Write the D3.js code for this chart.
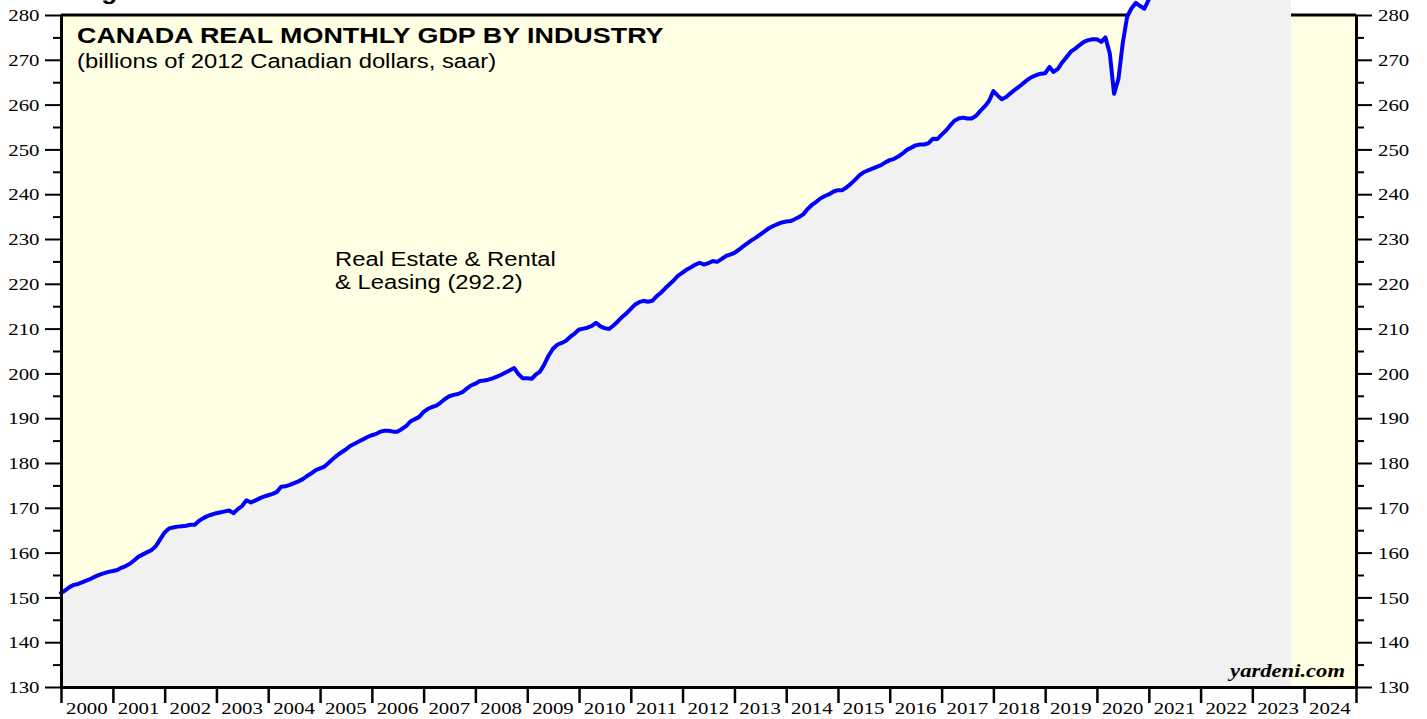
<!DOCTYPE html>
<meta charset="utf-8">
<style>
body { margin: 0; background: #fff; }
svg { display: block; }
.axis text { font-family: 'Liberation Serif', 'Times New Roman', serif; font-size: 17.5px; fill: #000; }
.axis path, .axis line { stroke: #000; }
</style>
<body>
<svg width="1427" height="719"></svg>
<script src="https://cdn.jsdelivr.net/npm/d3@7/dist/d3.min.js"></script>
<script>

// monthly values, first one is January 2000 (billions of 2012 C$, saar)
var firstMonth = "2000-01";
var gdp2000s = [
  151.0, 151.6, 152.3, 152.8, 153.0, 153.4, 153.8, 154.2, 154.7, 155.1, 155.4, 155.7,
  155.9, 156.1, 156.6, 157.0, 157.5, 158.3, 159.1, 159.6, 160.1, 160.6, 161.5, 163.0,
  164.5, 165.4, 165.6, 165.8, 165.9, 166.0, 166.2, 166.2, 167.1, 167.7, 168.2, 168.5,
  168.8, 169.0, 169.2, 169.4, 168.8, 169.7, 170.4, 171.7, 171.2, 171.6, 172.1, 172.5,
  172.8, 173.1, 173.5, 174.7, 174.8, 175.1, 175.5, 175.9, 176.4, 177.1, 177.7, 178.4,
  178.8, 179.2, 180.0, 180.9, 181.7, 182.4, 183.0, 183.8, 184.3, 184.8, 185.3, 185.8,
  186.2, 186.5, 187.0, 187.2, 187.2, 187.0, 187.0, 187.6, 188.3, 189.3, 189.8, 190.3,
  191.4, 192.1, 192.5, 192.8, 193.5, 194.3, 194.9, 195.2, 195.4, 195.8, 196.6, 197.3,
  197.7, 198.3, 198.4, 198.6, 198.9, 199.3, 199.7, 200.2, 200.7, 201.2, 199.8, 198.9,
  198.9, 198.8, 199.7, 200.4, 202.0, 204.0, 205.5, 206.4, 206.8, 207.3, 208.2, 208.9
];
var gdp2010s = [
  209.8, 210.0, 210.2, 210.6, 211.3, 210.5, 210.1, 209.9, 210.7, 211.6, 212.6, 213.4,
  214.4, 215.4, 215.9, 216.2, 216.0, 216.2, 217.2, 218.0, 219.0, 219.9, 220.8, 221.8,
  222.5, 223.2, 223.7, 224.3, 224.7, 224.3, 224.6, 225.1, 224.9, 225.5, 226.2, 226.5,
  226.9, 227.6, 228.3, 229.0, 229.7, 230.3, 231.0, 231.7, 232.4, 232.9, 233.3, 233.7,
  233.9, 234.0, 234.4, 234.9, 235.5, 236.7, 237.6, 238.3, 239.1, 239.6, 240.0, 240.6,
  240.9, 240.9, 241.5, 242.3, 243.2, 244.2, 244.9, 245.3, 245.7, 246.1, 246.5, 247.1,
  247.6, 247.9, 248.4, 249.1, 249.9, 250.4, 250.9, 251.1, 251.1, 251.4, 252.4, 252.3,
  253.3, 254.2, 255.3, 256.4, 256.9, 257.1, 256.9, 256.9, 257.5, 258.6, 259.6, 260.8,
  263.0, 262.0, 261.2, 261.7, 262.5, 263.3, 264.0, 264.8, 265.6, 266.2, 266.6, 266.9,
  267.0, 268.4, 267.3, 268.0, 269.4, 270.6, 271.8, 272.5, 273.3, 274.0, 274.4, 274.6
];
var gdp2020s = [
  274.6, 274.0, 275.0, 271.4, 262.4, 265.8, 273.7, 279.6, 281.5, 282.7, 282.0, 281.4,
  283.5, 285.0, 286.2, 286.8, 286.0, 286.5, 287.0, 287.4, 287.8, 288.2, 288.5, 288.7,
  289.0, 289.3, 289.5, 289.4, 289.6, 289.8, 290.0, 290.1, 290.3, 290.5, 290.6, 290.8,
  290.9, 291.1, 291.2, 291.4, 291.5, 291.7, 291.8, 292.0, 292.1, 292.2
];

var yMajorTicks = [130, 140, 150, 160, 170, 180, 190, 200, 210, 220, 230, 240, 250, 260, 270, 280];
var yMinorTicks = [135, 145, 155, 165, 175, 185, 195, 205, 215, 225, 235, 245, 255, 265, 275];
var yearLabels = [2000, 2001, 2002, 2003, 2004, 2005, 2006, 2007, 2008, 2009, 2010, 2011,
  2012, 2013, 2014, 2015, 2016, 2017, 2018, 2019, 2020, 2021, 2022, 2023, 2024];

var title = "CANADA REAL MONTHLY GDP BY INDUSTRY";
var subtitle = "(billions of 2012 Canadian dollars, saar)";
var seriesLabel = ["Real Estate & Rental", "& Leasing (292.2)"];
var source = "yardeni.com";

var stretch = 1.19; // the original's lettering is drawn wide

var svg = d3.select("svg");
var plotLeft = 61, plotRight = 1356, plotTop = 15, plotBottom = 687;

var parseMonth = d3.timeParse("%Y-%m");
var start = parseMonth(firstMonth);
var data = gdp2000s.concat(gdp2010s, gdp2020s).map(function(v, i) {
  return { date: d3.timeMonth.offset(start, i), value: v };
});

var x = d3.scaleTime()
    .domain([new Date(2000, 0, 1), new Date(2025, 0, 1)])
    .range([plotLeft, plotRight]);

var y = d3.scaleLinear()
    .domain([130, 280])
    .range([plotBottom, plotTop]);

// figure heading, cut off by the top edge
svg.append("text")
    .attr("transform", "translate(78,-1.5) scale(" + stretch + ",1)")
    .style("font-family", "'Liberation Sans', Arial, sans-serif")
    .style("font-weight", "bold")
    .style("font-size", "22px")
    .text("Figure");

svg.append("rect")
    .attr("x", plotLeft).attr("y", plotTop)
    .attr("width", plotRight - plotLeft).attr("height", plotBottom - plotTop)
    .attr("fill", "#ffffe3");

svg.append("line")
    .attr("x1", plotLeft).attr("x2", plotRight)
    .attr("y1", plotTop).attr("y2", plotTop)
    .attr("stroke", "#000").attr("stroke-width", 3);

var area = d3.area()
    .x(function(d) { return x(d.date); })
    .y0(plotBottom)
    .y1(function(d) { return y(d.value); });

var line = d3.line()
    .x(function(d) { return x(d.date); })
    .y(function(d) { return y(d.value); });

svg.append("path")
    .datum(data)
    .attr("d", area)
    .attr("fill", "#f1f1f1");

svg.append("path")
    .datum(data)
    .attr("d", line)
    .attr("fill", "none")
    .attr("stroke", "#0000ff")
    .attr("stroke-width", 4)
    .attr("stroke-linejoin", "round")
    .attr("stroke-linecap", "round");

function stretchLabels(g, shift) {
  g.selectAll("text")
      .attr("x", shift / stretch)
      .attr("transform", "scale(" + stretch + ",1)");
}

// left axis
var gl = svg.append("g").attr("class", "axis").attr("transform", "translate(" + plotLeft + ",0)");
gl.call(d3.axisLeft(y).tickValues(yMinorTicks).tickSize(8).tickSizeOuter(0).tickFormat(""));
var glm = svg.append("g").attr("class", "axis").attr("transform", "translate(" + plotLeft + ",0)");
glm.call(d3.axisLeft(y).tickValues(yMajorTicks).tickSize(16).tickSizeOuter(0).tickPadding(5));
glm.call(stretchLabels, -21.5);

// right axis
var gr = svg.append("g").attr("class", "axis").attr("transform", "translate(" + plotRight + ",0)");
gr.call(d3.axisRight(y).tickValues(yMinorTicks).tickSize(8).tickSizeOuter(0).tickFormat(""));
var grm = svg.append("g").attr("class", "axis").attr("transform", "translate(" + plotRight + ",0)");
grm.call(d3.axisRight(y).tickValues(yMajorTicks).tickSize(16).tickSizeOuter(0).tickPadding(5));
grm.call(stretchLabels, 22);

svg.selectAll(".axis line").attr("stroke-width", 2);
svg.selectAll(".axis path").attr("stroke-width", 3);

// bottom axis: year boundaries and centred year labels
var yearStarts = yearLabels.concat([2025]).map(function(yr) { return new Date(yr, 0, 1); });
var gb = svg.append("g").attr("class", "axis").attr("transform", "translate(0," + plotBottom + ")");
gb.call(d3.axisBottom(x).tickValues(yearStarts).tickSize(16).tickSizeOuter(0).tickFormat(""));
gb.selectAll("line").attr("stroke-width", 2.5);
gb.selectAll("path").attr("stroke-width", 3);

var gbl = svg.append("g").attr("class", "axis").attr("transform", "translate(0," + plotBottom + ")");
gbl.call(d3.axisBottom(x)
    .tickValues(yearLabels.map(function(yr) { return new Date(yr, 6, 1); }))
    .tickSize(0).tickPadding(0)
    .tickFormat(d3.timeFormat("%Y")));
gbl.select(".domain").remove();
// the text scale also stretches its x position, so recentre each label
gbl.selectAll(".tick").each(function(d) {
  d3.select(this).attr("transform", "translate(0,0)");
  d3.select(this).select("text")
      .attr("x", x(d) / stretch)
      .attr("y", 27.5).attr("dy", 0)
      .attr("transform", "scale(" + stretch + ",1)");
});

// titles
svg.append("text")
    .attr("transform", "translate(77,43) scale(" + stretch + ",1)")
    .style("font-family", "'Liberation Sans', Arial, sans-serif")
    .style("font-weight", "bold")
    .style("font-size", "22.6px")
    .text(title);

svg.append("text")
    .attr("transform", "translate(77,68) scale(" + stretch + ",1)")
    .style("font-family", "'Liberation Sans', Arial, sans-serif")
    .style("font-size", "20px")
    .text(subtitle);

svg.selectAll(".serieslabel")
    .data(seriesLabel)
    .enter().append("text")
    .attr("class", "serieslabel")
    .attr("transform", function(d, i) { return "translate(335," + (266 + i * 23) + ") scale(" + stretch + ",1)"; })
    .style("font-family", "'Liberation Sans', Arial, sans-serif")
    .style("font-size", "20px")
    .text(function(d) { return d; });

svg.append("text")
    .attr("transform", "translate(1345,677) scale(" + stretch + ",1)")
    .attr("text-anchor", "end")
    .style("font-family", "'Liberation Serif', 'Times New Roman', serif")
    .style("font-weight", "bold")
    .style("font-style", "italic")
    .style("font-size", "19px")
    .text(source);

</script>
